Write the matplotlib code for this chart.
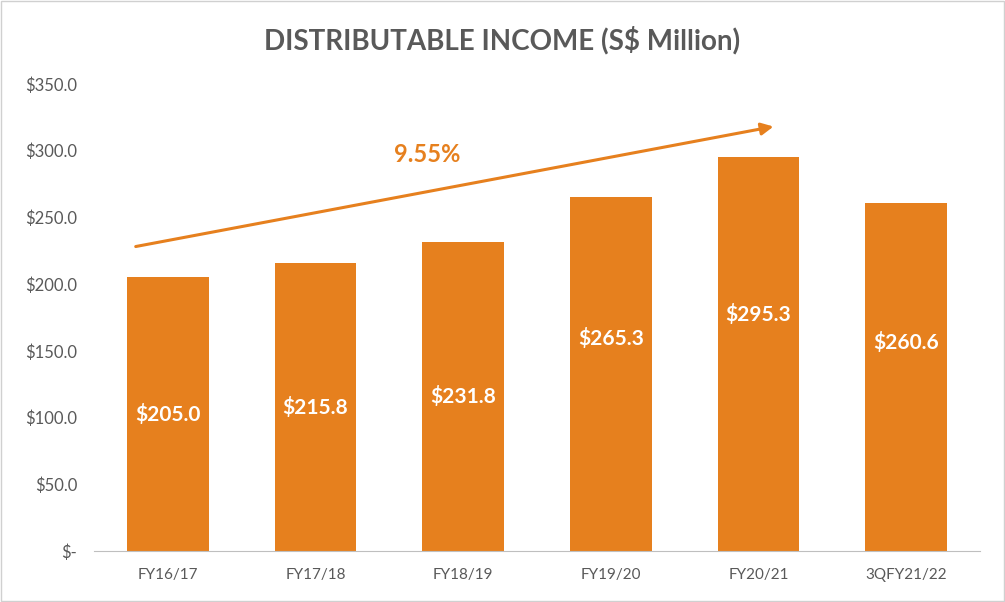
import matplotlib
matplotlib.use("Agg")
import matplotlib.pyplot as plt
from matplotlib.patches import Rectangle

categories = ["FY16/17", "FY17/18", "FY18/19", "FY19/20", "FY20/21", "3QFY21/22"]
values = [205.0, 215.8, 231.8, 265.3, 295.3, 260.6]
yticks = [0, 50, 100, 150, 200, 250, 300, 350]
ylabels = ["$-", "$50.0", "$100.0", "$150.0", "$200.0", "$250.0", "$300.0", "$350.0"]
growth_label = "9.55%"

plt.rcParams["font.family"] = "Lato"
orange = "#E6801E"
fig = plt.figure(figsize=(10.05, 6.02), dpi=100)
fig.patches.append(Rectangle((0.001, 0.001), 0.998, 0.997, transform=fig.transFigure,
                             fill=False, edgecolor="#D0D0D0", lw=1))
ax = fig.add_axes([94/1005, 1-551/602, (980-94)/1005, (551-84)/602])
x = range(len(categories))
ax.bar(x, values, width=0.555, color=orange)
for i, v in enumerate(values):
    ax.text(i, v/2 if i < 3 else v*0.6 if i < 4 else v*0.6, f"${v:.1f}", ha="center", va="center",
            color="white", fontsize=15, fontweight="bold")
ax.set_xlim(-0.5, len(categories)-0.5)
ax.set_ylim(0, 350)
ax.set_yticks(yticks)
ax.set_yticklabels(ylabels, color="#595959", fontsize=12)
ax.set_xticks(list(x))
ax.set_xticklabels(categories, color="#595959", fontsize=11)
ax.tick_params(length=0, pad=12)
for s in ["top", "right", "left"]:
    ax.spines[s].set_visible(False)
ax.spines["bottom"].set_color("#BFBFBF")
ax.annotate("", xy=(4.12, 318.5), xytext=(-0.236, 227.8),
            arrowprops=dict(arrowstyle="-|>", color=orange, lw=2.2, mutation_scale=18))
ax.text(1.757, 296.8, growth_label, color=orange, fontsize=17, fontweight="bold",
        ha="center", va="center")
fig.text(0.5, 1-40/602, "DISTRIBUTABLE INCOME (S$ Million)", ha="center", va="center",
         fontsize=20, fontweight="bold", color="#595959")
fig.savefig("out.png", dpi=100)
